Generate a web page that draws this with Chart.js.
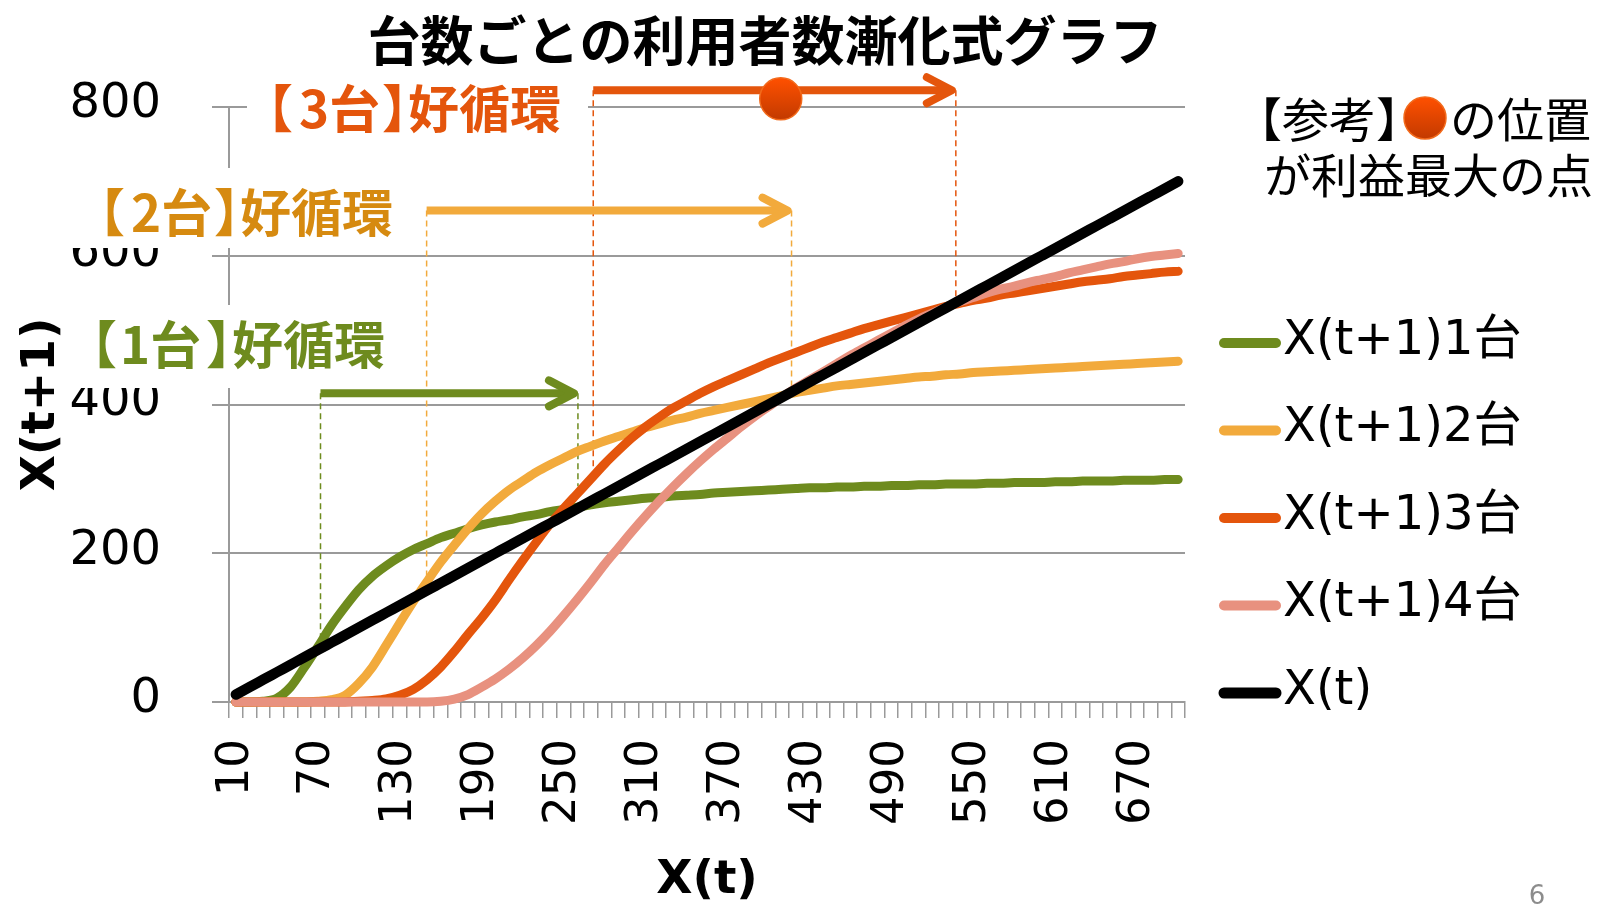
<!DOCTYPE html>
<html>
<head>
<meta charset="utf-8">
<script src="https://cdn.jsdelivr.net/npm/chart.js@4.4.1/dist/chart.umd.min.js"></script>
<style>
html,body{margin:0;padding:0;background:#ffffff;overflow:hidden;}
canvas{display:block;}
</style>
</head>
<body>
<canvas id="c" width="1598" height="906"></canvas>
<script>
// ---- data ----
const categories = [10,20,30,40,50,60,70,80,90,100,
  110,120,130,140,150,160,170,180,190,200,
  210,220,230,240,250,260,270,280,290,300,
  310,320,330,340,350,360,370,380,390,400,
  410,420,430,440,450,460,470,480,490,500,
  510,520,530,540,550,560,570,580,590,600,
  610,620,630,640,650,660,670,680,690,700];
const tickLabels = [10,70,130,190,250,310,370,430,490,550,610,670];
const yTicks = [0,200,400,600,800];
const seriesNames = ['X(t+1)1台','X(t+1)2台','X(t+1)3台','X(t+1)4台','X(t)'];

const units1 = [0,0,1,5,20,46,74,103,128,151,
  169,183,195,205,213,221,227,233,238,242,
  245,249,252,256,259,262,265,268,270,272,
  274,275,277,278,279,281,282,283,284,285,
  286,287,288,288,289,289,290,290,291,291,
  292,292,293,293,293,294,294,295,295,295,
  296,296,297,297,297,298,298,298,299,299];
const units2 = [0,0,0,0,0,0,1,3,9,25,
  47,76,106,135,162,188,211,233,253,270,
  285,297,309,319,328,337,344,351,357,363,
  369,374,379,383,388,392,396,400,404,408,
  412,416,419,422,425,427,429,431,433,435,
  437,438,440,441,443,444,445,446,447,448,
  449,450,451,452,453,454,455,456,457,458];
const units3 = [0,0,0,0,0,0,0,0,0,1,
  2,4,9,17,30,47,68,91,113,137,
  164,190,215,239,260,280,300,320,338,355,
  370,383,395,405,415,424,432,440,448,456,
  463,470,477,484,490,496,502,507,512,517,
  522,527,532,536,540,543,547,550,553,556,
  559,562,565,567,569,572,574,576,578,579];
const units4 = [0,0,0,0,0,0,0,0,0,0,
  0,0,0,0,0,1,4,10,20,31,
  44,59,76,95,116,138,161,185,207,229,
  250,270,289,307,324,340,355,370,384,397,
  410,422,433,444,455,466,476,486,496,506,
  515,523,531,538,544,550,555,559,564,568,
  572,577,581,585,589,592,596,599,601,603];
const identity = [10,20,30,40,50,60,70,80,90,100,
  110,120,130,140,150,160,170,180,190,200,
  210,220,230,240,250,260,270,280,290,300,
  310,320,330,340,350,360,370,380,390,400,
  410,420,430,440,450,460,470,480,490,500,
  510,520,530,540,550,560,570,580,590,600,
  610,620,630,640,650,660,670,680,690,700];

// annotation values (data units) for the "好循環" arrows
const guides = [
  {units:'1台', color:'#6E8B1E', textColor:'#6E8B1E', from:72, to:260.5, level:415, leftDrop:70, rightDrop:290},
  {units:'2台', color:'#F2AA3C', textColor:'#D68A10', from:149.7, to:416.9, level:660.7, leftDrop:160, rightDrop:416},
  {units:'3台', color:'#E4550C', textColor:'#E4550C', from:271.7, to:537.2, level:822.5, leftDrop:316, rightDrop:538}
];
const maxProfitPoint = {x:409, y:811};

// ---- styles ----
const LATIN = "'DejaVu Sans', 'Noto Sans CJK JP', sans-serif";
const CJK = "'Noto Sans CJK JP', 'DejaVu Sans', sans-serif";
const colors = ['#6E8B1E','#F2AA3C','#E4550C','#E8917F','#000000'];
const widths = [9,9,9,9,10.5];
const seriesValues = [units1, units2, units3, units4, identity];
// label boxes (white backgrounds) and text anchors (ink-left, middle), in pixels
const labelLayout = [
  {box:[66,305,329,83], left:99, mid:345},
  {box:[60,168,345,80], left:107, mid:212.5},
  {box:[247,76,341,64], left:275, mid:109}
];

const datasets = seriesNames.map((name, i) => ({
  label: name,
  data: seriesValues[i],
  borderColor: colors[i],
  backgroundColor: colors[i],
  borderWidth: widths[i],
  pointRadius: 0,
  pointHoverRadius: 0,
  fill: false,
  cubicInterpolationMode: 'monotone',
  borderCapStyle: 'round',
  borderJoinStyle: 'round',
  order: seriesNames.length - i,
  clip: false
}));

function drawBall(ctx, x, y, r) {
  const grd = ctx.createLinearGradient(0, y - r, 0, y + r);
  grd.addColorStop(0, '#FF5000');
  grd.addColorStop(1, '#C23A00');
  ctx.fillStyle = grd;
  ctx.beginPath(); ctx.arc(x, y, r, 0, Math.PI * 2); ctx.fill();
  ctx.strokeStyle = '#F26A1B'; ctx.lineWidth = 1.5; ctx.stroke();
}

// draw text pieces so that each piece's ink starts at left + dx
function drawPieces(ctx, pieces, left, y) {
  for (const p of pieces) {
    const m = ctx.measureText(p.t);
    ctx.fillText(p.t, left + p.dx + m.actualBoundingBoxLeft, y);
  }
}

const overlay = {
  id: 'overlay',
  beforeDatasetsDraw(chart) {
    const {ctx} = chart;
    const xs = chart.scales.x, ys = chart.scales.y;
    const step = categories[1] - categories[0];
    const px = v => xs.getPixelForValue((v - categories[0]) / step);
    const py = v => ys.getPixelForValue(v);
    ctx.save();
    ctx.setLineDash([6, 4]);
    ctx.lineWidth = 1.5;
    for (const g of guides) {
      ctx.strokeStyle = g.color;
      const y = py(g.level);
      ctx.beginPath(); ctx.moveTo(px(g.from), y); ctx.lineTo(px(g.from), py(g.leftDrop)); ctx.stroke();
      ctx.beginPath(); ctx.moveTo(px(g.to), y); ctx.lineTo(px(g.to), py(g.rightDrop)); ctx.stroke();
    }
    ctx.restore();
  },
  afterDatasetsDraw(chart) {
    const {ctx} = chart;
    const xs = chart.scales.x, ys = chart.scales.y;
    const step = categories[1] - categories[0];
    const px = v => xs.getPixelForValue((v - categories[0]) / step);
    const py = v => ys.getPixelForValue(v);
    ctx.save();
    // label boxes + texts
    guides.forEach((g, i) => {
      const L = labelLayout[i];
      ctx.fillStyle = '#ffffff';
      ctx.fillRect(L.box[0], L.box[1], L.box[2], L.box[3]);
      ctx.fillStyle = g.textColor;
      ctx.font = 'bold 51px ' + CJK;
      ctx.textAlign = 'left';
      ctx.textBaseline = 'middle';
      drawPieces(ctx, [
        {t:'【', dx:0}, {t:g.units, dx:25}, {t:'】', dx:108}, {t:'好循環', dx:134}
      ], L.left, L.mid);
    });
    // arrows
    for (const g of guides) {
      const y = py(g.level), x0 = px(g.from), x1 = px(g.to);
      ctx.strokeStyle = g.color;
      ctx.lineWidth = 8;
      ctx.lineCap = 'butt';
      ctx.beginPath(); ctx.moveTo(x0, y); ctx.lineTo(x1 - 5, y); ctx.stroke();
      ctx.lineCap = 'round'; ctx.lineJoin = 'round';
      ctx.beginPath(); ctx.moveTo(x1 - 29, y - 13); ctx.lineTo(x1 - 4, y); ctx.lineTo(x1 - 29, y + 13); ctx.stroke();
    }
    drawBall(ctx, px(maxProfitPoint.x), py(maxProfitPoint.y), 21);

    // title
    ctx.fillStyle = '#000000';
    ctx.font = 'bold 53px ' + CJK;
    ctx.textAlign = 'center';
    ctx.textBaseline = 'middle';
    ctx.fillText('台数ごとの利用者数漸化式グラフ', 765, 41);

    // note
    ctx.font = '47px ' + CJK;
    ctx.textAlign = 'right';
    ctx.fillText('【参考】', 1423, 119);
    drawBall(ctx, 1425, 118, 21);
    ctx.fillStyle = '#000000';
    ctx.textAlign = 'left';
    ctx.fillText('の位置', 1450, 119);
    ctx.fillText('が利益最大の点', 1264, 175);

    // legend
    chart.data.datasets.forEach((ds, k) => {
      const yl = 343 + 87.5 * k;
      ctx.strokeStyle = ds.borderColor;
      ctx.lineWidth = k === 4 ? 11 : 10;
      ctx.lineCap = 'round';
      ctx.beginPath(); ctx.moveTo(1224, yl); ctx.lineTo(1276, yl); ctx.stroke();
      ctx.fillStyle = '#000000';
      ctx.font = '48px ' + LATIN;
      ctx.textAlign = 'left';
      ctx.textBaseline = 'alphabetic';
      ctx.fillText(ds.label, 1283, 353.5 + 87.5 * k);
    });

    // page number
    ctx.fillStyle = '#8c8c8c';
    ctx.font = '26px ' + LATIN;
    ctx.textAlign = 'center';
    ctx.textBaseline = 'alphabetic';
    ctx.fillText('6', 1537, 904);
    ctx.restore();
  }
};

new Chart(document.getElementById('c'), {
  type: 'line',
  data: { labels: categories.map(String), datasets },
  plugins: [overlay],
  options: {
    responsive: false,
    animation: false,
    devicePixelRatio: 1,
    events: [],
    layout: { padding: { top: 107, right: 413, bottom: 0, left: 0 } },
    plugins: { legend: { display: false }, title: { display: false }, tooltip: { enabled: false } },
    scales: {
      x: {
        type: 'category',
        offset: true,
        grid: { offset: true, drawOnChartArea: false, drawTicks: true, tickLength: 16, color: '#9a9a9a', lineWidth: 1.5 },
        border: { display: true, color: '#9a9a9a', width: 2 },
        ticks: {
          autoSkip: false, maxRotation: 90, minRotation: 90, padding: 21,
          color: '#000000', font: { family: LATIN, size: 45 },
          callback: function(value, index) {
            const c = categories[index];
            return tickLabels.includes(c) ? String(c) : '';
          }
        },
        title: { display: true, text: 'X(t)', color: '#000000', font: { family: LATIN, size: 47, weight: 'bold', lineHeight: 1.08 }, padding: { top: 0, bottom: 0 } },
        afterFit: s => { s.height = 204; }
      },
      y: {
        min: 0, max: 800,
        afterBuildTicks: s => { s.ticks = yTicks.map(v => ({ value: v })); },
        grid: { color: '#9a9a9a', lineWidth: 2, tickLength: 17 },
        border: { display: true, color: '#9a9a9a', width: 2 },
        ticks: { padding: 51, labelOffset: -2, color: '#000000', font: { family: LATIN, size: 48 } },
        title: { display: true, text: 'X(t+1)', color: '#000000', font: { family: LATIN, size: 47, weight: 'bold' }, padding: { top: 14, bottom: 0 } },
        afterFit: s => { s.width = 229; }
      }
    }
  }
});
</script>
</body>
</html>
